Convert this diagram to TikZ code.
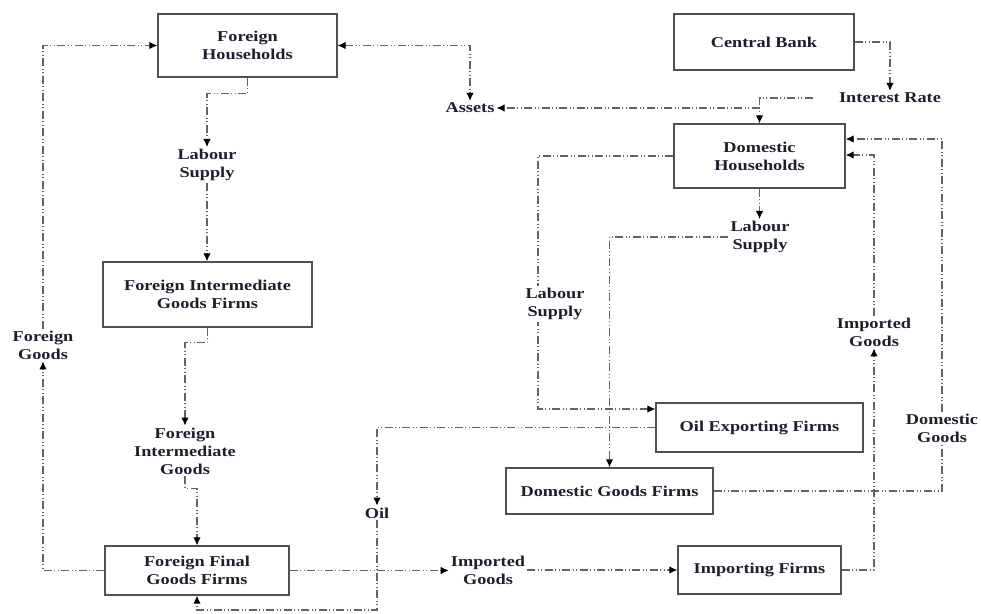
\documentclass[tikz,border=0pt]{standalone}
\usepackage{fontspec}
\setmainfont{Liberation Serif}[FakeStretch=1.22]
\usetikzlibrary{arrows.meta,backgrounds}
\definecolor{txt}{RGB}{30,30,45}
\definecolor{ln}{RGB}{100,100,100}
\definecolor{bx}{RGB}{80,80,80}
\tikzset{
  box/.style={draw=bx,line width=1.4pt,fill=white,inner sep=0pt,align=center,text=txt,
    font=\bfseries\fontsize{15}{18}\selectfont},
  lbl/.style={fill=white,inner sep=2pt,align=center,text=txt,
    font=\bfseries\fontsize{15}{18}\selectfont},
  flow/.style={draw=ln,line width=1.1pt,
    dash pattern=on 8pt off 2.5pt on 1pt off 2.5pt on 1pt off 2.5pt},
  tip/.style={-{Latex[black,length=8pt,width=7.5pt]}},
  tips/.style={{Latex[black,length=8pt,width=7.5pt]}-{Latex[black,length=8pt,width=7.5pt]}}
}
\begin{document}
\begin{tikzpicture}[x=1pt,y=-1pt]
\useasboundingbox (0,0) rectangle (981,613);
% boxes
\node[box,minimum width=179pt,minimum height=63pt] (FH) at (247.5,45.5) {Foreign\\Households};
\node[box,minimum width=180pt,minimum height=56pt] (CB) at (764,42) {Central Bank};
\node[box,minimum width=171pt,minimum height=64pt] (DH) at (759.5,156) {Domestic\\Households};
\node[box,minimum width=209pt,minimum height=65pt] (FIGF) at (207.5,294.5) {Foreign Intermediate\\Goods Firms};
\node[box,minimum width=184pt,minimum height=49pt] (FFGF) at (197,570.5) {Foreign Final\\Goods Firms};
\node[box,minimum width=207pt,minimum height=49pt] (OEF) at (759.5,427.5) {Oil Exporting Firms};
\node[box,minimum width=207pt,minimum height=46pt] (DGF) at (609.5,491) {Domestic Goods Firms};
\node[box,minimum width=163pt,minimum height=48pt] (IF) at (759.5,570) {Importing Firms};
% labels
\node[lbl] (LS1) at (207,165) {Labour\\Supply};
\node[lbl] (AS) at (470,108) {Assets};
\node[lbl] (IR) at (890,98) {Interest Rate};
\node[lbl] (LS3) at (760,237) {Labour\\Supply};
\node[lbl] (LS2) at (555,304) {Labour\\Supply};
\node[lbl] (IG2) at (874,332) {Imported\\Goods};
\node[lbl] (FG) at (43,345) {Foreign\\Goods};
\node[lbl] (FIG) at (185,451) {Foreign\\Intermediate\\Goods};
\node[lbl] (OIL) at (377,513) {Oil};
\node[lbl] (IG1) at (488,570.5) {Imported\\Goods};
\node[lbl] (DG) at (942,428) {Domestic\\Goods};
\coordinate (k1) at (538,409);
\coordinate (k2) at (377,610);
\begin{scope}[on background layer]
\draw[flow,tip] (FH.south) -- ++(0,16) -| (LS1.north);
\draw[flow,tip] (LS1.south) -- (LS1.south |- FIGF.north);
\draw[flow,tip] (FIGF.south) -- ++(0,15) -| (FIG.north);
\draw[flow,tip] (FIG.south) -- ++(0,12) -| (FFGF.north);
\draw[flow,tip] (FFGF.west) -| (FG.south);
\draw[flow,tip] (FG.north) |- (FH.west);
\draw[flow,tips] (FH.east) -| (AS.north);
\draw[flow,tip] ([xshift=-24pt]IR.west) -| (DH.north);
\draw[flow,tip] (DH.north |- AS.east) -- (AS.east);
\draw[flow,tip] (CB.east) -| (IR.north);
\draw[flow,tip] (DH.south) -- (DH.south |- LS3.north);
\draw[flow,tip] (LS3.west) -| (DGF.north);
\draw[flow,tip] (DH.west) -| (k1) -- (k1 -| OEF.west);
\draw[flow,tip] (OEF.west) -| (OIL.north);
\draw[flow,tip] (OIL.south) -- (k2) -| (FFGF.south);
\draw[flow,tip] (FFGF.east) -- (FFGF.east -| IG1.west);
\draw[flow,tip] (IG1.east |- IF.west) -- (IF.west);
\draw[flow,tip] (IF.east) -| (IG2.south);
\draw[flow,tip] (IG2.north) |- ([yshift=1pt]DH.east);
\draw[flow] (DGF.east) -| (DG.south);
\draw[flow,tip] (DG.north) |- ([yshift=17pt]DH.east);
\end{scope}
\end{tikzpicture}
\end{document}
